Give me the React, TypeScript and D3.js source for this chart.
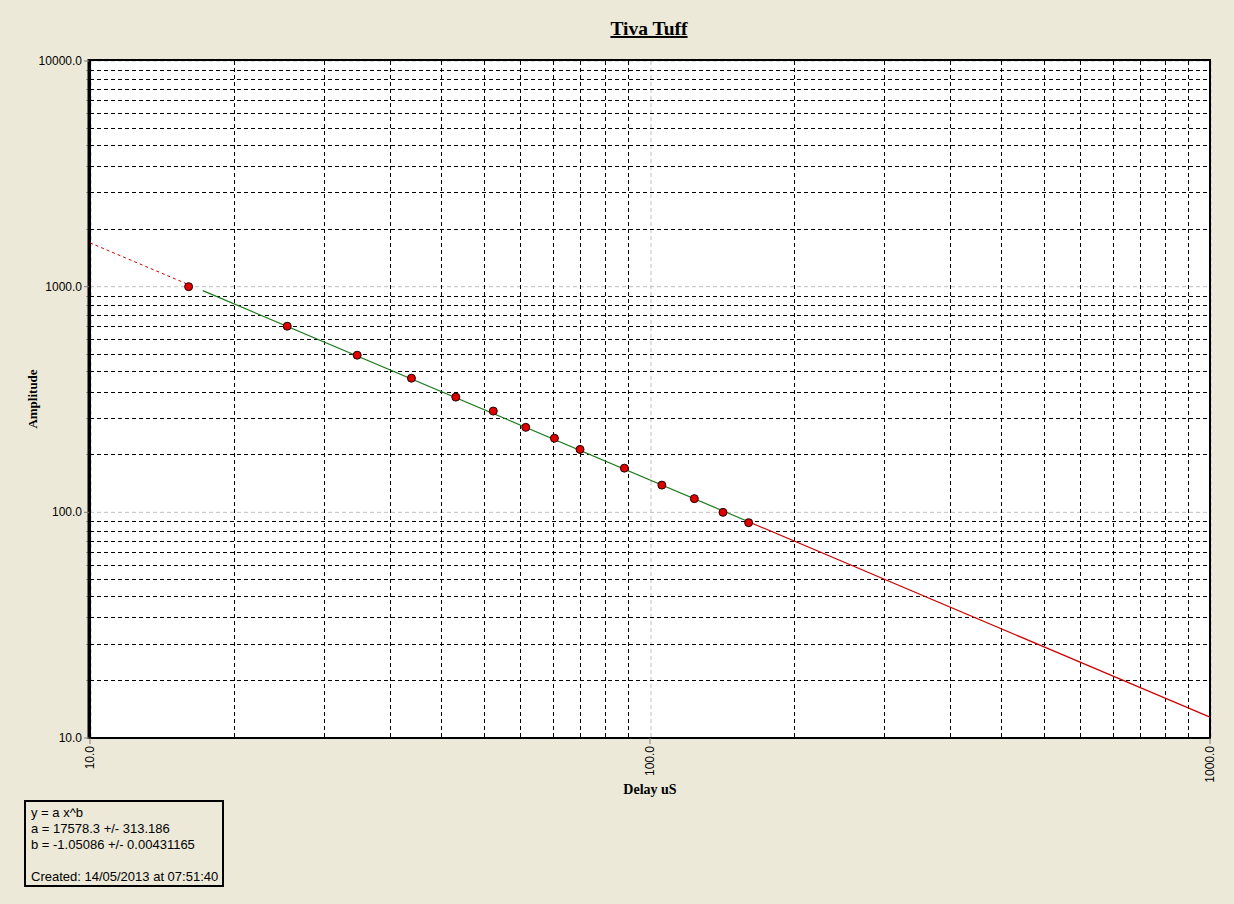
import React from "react";
import * as d3 from "d3";

const delayUs = [15, 22.5, 30, 37.5, 45, 52.5, 60, 67.5, 75, 90, 105, 120, 135, 150];
const amplitude = [1000, 668, 497, 393, 324, 281, 238, 213, 190, 157, 132, 115, 100, 90];
const fitA = 17578.3;
const fitB = -1.05086;
const fitRangeStart = 15.9;
const fitRangeEnd = 150;
const majorTicks = [10, 100, 1000];
const majorTicksY = [10, 100, 1000, 10000];
const minorMultipliers = [1.81, 2.62, 3.43, 4.24, 5.05, 5.86, 6.7, 7.5, 8.3, 9.12];
const legendLines = [
  "y = a x^b",
  "a = 17578.3 +/- 313.186",
  "b = -1.05086 +/- 0.00431165",
  "",
  "Created: 14/05/2013 at 07:51:40",
];

const W = 1234;
const H = 904;
const L = 90, R = 1210, T = 61, B = 738;

export default function App() {
  const x = d3.scaleLog().domain([10, 1000]).range([L, R]);
  const y = d3.scaleLog().domain([10, 10000]).range([B, T]);
  const fit = (v: number) => fitA * Math.pow(v, fitB);
  const line = d3.line<number>().x((d) => x(d)).y((d) => y(fit(d)));

  const minorX: number[] = [];
  [10, 100].forEach((dec) => minorMultipliers.forEach((m) => minorX.push(dec * m)));
  const minorY: number[] = [];
  [10, 100, 1000].forEach((dec) => minorMultipliers.forEach((m) => minorY.push(dec * m)));

  const sans = "'Liberation Sans', Arial, sans-serif";
  const serif = "'Liberation Serif', 'Times New Roman', serif";

  return (
    <div style={{ position: "absolute", left: 0, top: 0 }}>
      <svg width={W} height={H} style={{ display: "block" }}>
        <rect x={0} y={0} width={W} height={H} fill="#ECE9D8" />
        <rect x={L} y={T} width={R - L} height={B - T} fill="#ffffff" />
        {majorTicks.map((t) => (
          <line key={"mx" + t} x1={x(t) + 1} x2={x(t) + 1} y1={T} y2={B} stroke="#c0c0c0" strokeDasharray="4,3" />
        ))}
        {majorTicksY.map((t) => (
          <line key={"my" + t} x1={L} x2={R} y1={y(t)} y2={y(t)} stroke="#c0c0c0" strokeDasharray="4,3" />
        ))}
        {minorX.map((t, i) => (
          <line key={"nx" + i} x1={Math.round(x(t)) + 0.5} x2={Math.round(x(t)) + 0.5} y1={T} y2={B} stroke="#000" strokeDasharray="4,3" />
        ))}
        {minorY.map((t, i) => (
          <line key={"ny" + i} x1={L} x2={R} y1={Math.round(y(t)) + 0.5} y2={Math.round(y(t)) + 0.5} stroke="#000" strokeDasharray="4,3" />
        ))}
        {minorY.map((t, i) => (
          <line key={"tk" + i} x1={L - 4} x2={L - 1} y1={Math.round(y(t)) + 0.5} y2={Math.round(y(t)) + 0.5} stroke="#999" />
        ))}
        <rect x={L} y={T - 1} width={R - L} height={B - T + 1} fill="none" stroke="#000" strokeWidth={2} />
        <line x1={L - 1} x2={L - 1} y1={T - 2} y2={B + 1} stroke="#000" strokeWidth={3} />
        <path d={line([10, delayUs[0]]) || ""} fill="none" stroke="#cc0000" strokeWidth={1} strokeDasharray="3,3" />
        <path d={line([fitRangeStart, fitRangeEnd]) || ""} fill="none" stroke="#1a7a1a" strokeWidth={1.2} />
        <path d={line([fitRangeEnd, 1000]) || ""} fill="none" stroke="#cc0000" strokeWidth={1.2} />
        {delayUs.map((d, i) => (
          <circle key={"p" + i} cx={x(d)} cy={y(amplitude[i])} r={4} fill="#e00000" stroke="#200000" strokeWidth={1} />
        ))}
        {majorTicksY.map((t) => (
          <g key={"yl" + t}>
            <line x1={L - 6} x2={L - 1} y1={y(t)} y2={y(t)} stroke="#808080" />
            <text x={L - 8} y={y(t) + 4} textAnchor="end" fontFamily={sans} fontSize={12} fill="#000">
              {t.toFixed(1)}
            </text>
          </g>
        ))}
        {majorTicks.map((t) => (
          <g key={"xl" + t}>
            <line x1={x(t)} x2={x(t)} y1={B} y2={B + 6} stroke="#808080" />
            <text
              transform={`translate(${x(t) + 4},${B + 8}) rotate(-90)`}
              textAnchor="end"
              fontFamily={sans}
              fontSize={12}
              fill="#000"
            >
              {t.toFixed(1)}
            </text>
          </g>
        ))}
        <text x={649} y={35} textAnchor="middle" fontFamily={serif} fontWeight="bold" fontSize={19.5} textDecoration="underline" fill="#000">
          Tiva Tuff
        </text>
        <text x={650} y={794} textAnchor="middle" fontFamily={serif} fontWeight="bold" fontSize={14} fill="#000">
          Delay uS
        </text>
        <text transform="translate(37,399) rotate(-90)" textAnchor="middle" fontFamily={serif} fontWeight="bold" fontSize={13} fill="#000">
          Amplitude
        </text>
        <rect x={25} y={801} width={198} height={85} fill="#ECE9D8" stroke="#000" strokeWidth={2} />
        {legendLines.map((s, i) => (
          <text key={"lg" + i} x={31} y={817 + i * 16} fontFamily={sans} fontSize={13} fill="#000">
            {s}
          </text>
        ))}
      </svg>
    </div>
  );
}
